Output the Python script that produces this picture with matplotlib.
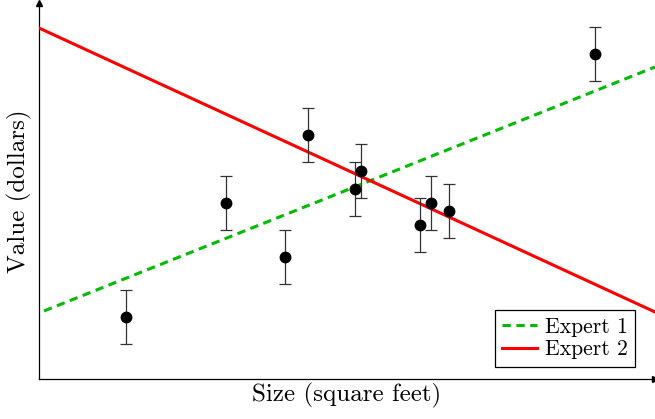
import numpy as np
import matplotlib
matplotlib.use("Agg")
import matplotlib.pyplot as plt

plt.rcParams['font.family'] = ['cmr10', 'DejaVu Serif']
plt.rcParams['mathtext.fontset'] = 'cm'
plt.rcParams['axes.formatter.use_mathtext'] = True
plt.rcParams['lines.scale_dashes'] = False

# data (arbitrary units)
size_x = [0.87, 1.87, 2.46, 2.69, 3.16, 3.22, 3.81, 3.92, 4.10, 5.56]
value_y = [0.62, 1.76, 1.22, 2.44, 1.90, 2.08, 1.54, 1.76, 1.68, 3.25]
err_y = [0.27] * 10

expert1_x = [0.05, 6.16]
expert1_y = [0.68, 3.12]
expert2_x = [0.0, 6.16]
expert2_y = [3.51, 0.67]

W, H = 655, 419
fig = plt.figure(figsize=(W / 100, H / 100), dpi=100)
ax = fig.add_axes([39 / W, (H - 379) / H, 616 / W, 376 / H])
ax.set_xlim(0, 6.16)
ax.set_ylim(0, 3.76)

ax.plot(expert1_x, expert1_y, color='#00bb00', lw=2.2, dashes=(6, 4), label='Expert 1', zorder=3)
ax.plot(expert2_x, expert2_y, color='#ff0000', lw=2.2, label='Expert 2', zorder=3)
ax.errorbar(size_x, value_y, yerr=err_y, fmt='o', color='black', ms=7.5,
            ecolor='#333333', elinewidth=0.9, capsize=4.5, capthick=0.9, zorder=4)

for s in ['top', 'right']:
    ax.spines[s].set_visible(False)
ax.spines['left'].set_linewidth(0.9)
ax.spines['bottom'].set_linewidth(0.9)
ax.set_xticks([])
ax.set_yticks([])
ax.plot(1, 0, '>k', ms=4, transform=ax.transAxes, clip_on=False)
ax.plot(0, 1, '^k', ms=4, transform=ax.transAxes, clip_on=False)

ax.set_xlabel('Size (square feet)', fontsize=18, labelpad=3)
ax.set_ylabel('Value (dollars)', fontsize=18, labelpad=5)

leg = ax.legend(loc='lower right', bbox_to_anchor=(0.9675, 0.032), borderaxespad=0,
                fontsize=15.6, frameon=True, fancybox=False, edgecolor='black',
                framealpha=1, handlelength=1.6, borderpad=0.35, labelspacing=0.15,
                handletextpad=0.35)
leg.get_frame().set_linewidth(0.9)

fig.savefig('out.png', dpi=100)
